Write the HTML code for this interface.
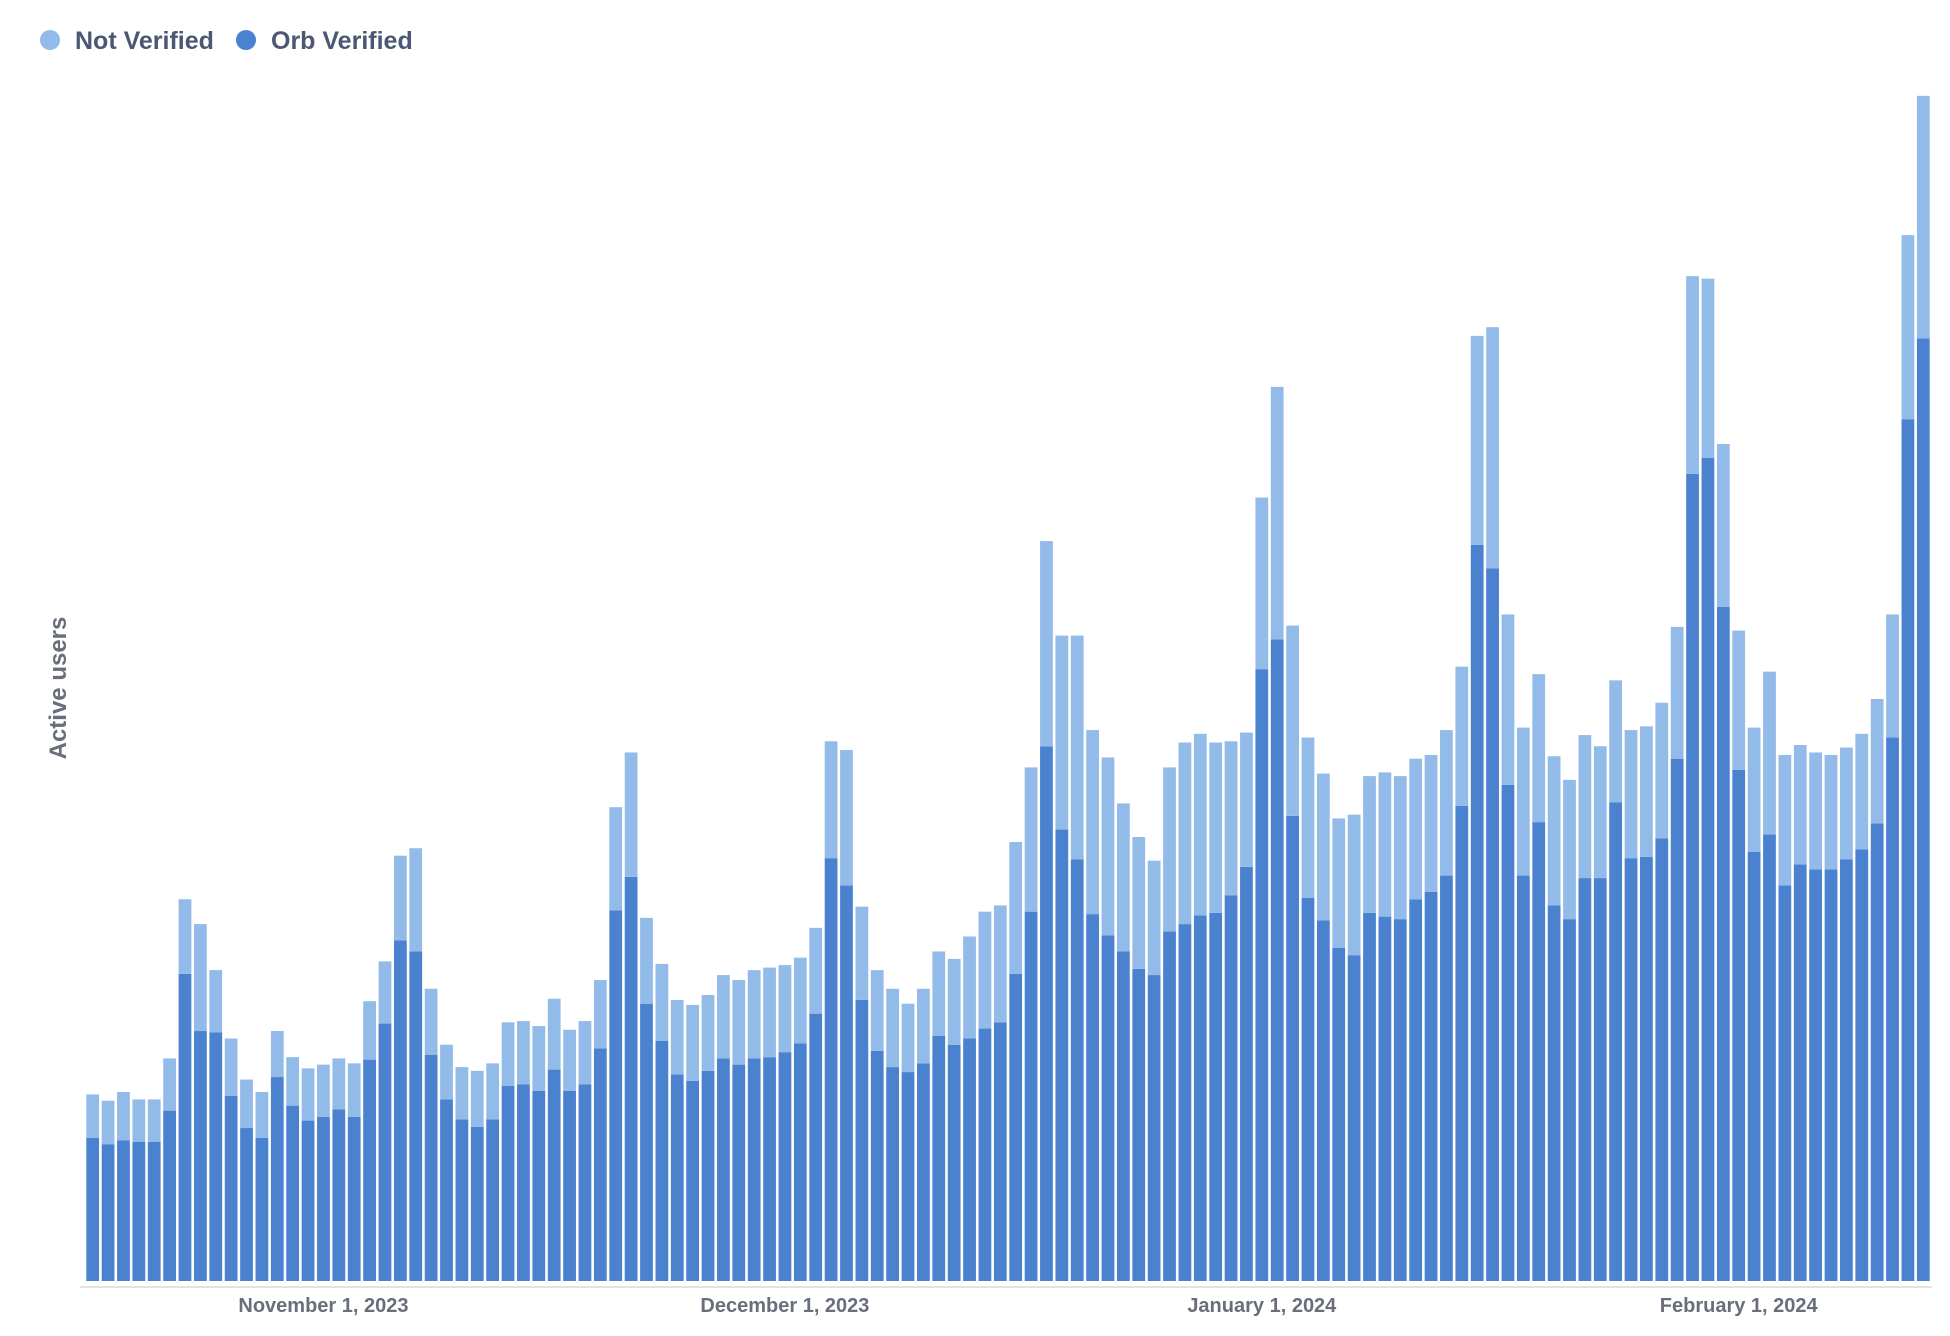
<!DOCTYPE html>
<html><head><meta charset="utf-8">
<style>
html,body{margin:0;padding:0;background:#fff;}
svg{display:block;font-family:"Liberation Sans",sans-serif;}
</style></head>
<body>
<svg id="chart" width="1950" height="1336" viewBox="0 0 1950 1336">
  <g>
    <g>
      <circle cx="50" cy="40" r="10" fill="#93bbe9"/>
      <text x="75" y="49" font-size="25" font-weight="bold" fill="#4c5773">Not Verified</text>
    </g>
    <g>
      <circle cx="246" cy="40" r="10" fill="#4a82d0"/>
      <text x="271" y="49" font-size="25" font-weight="bold" fill="#4c5773">Orb Verified</text>
    </g>
  </g>
  <text transform="translate(66,688) rotate(-90)" text-anchor="middle" font-size="24" font-weight="bold" fill="#696e7b">Active users</text>
  <g id="bars"></g>
  <line x1="80" y1="1287" x2="1932" y2="1287" stroke="#e0e2e6" stroke-width="2"/>
  <g id="xticks"></g>
</svg>
<script>
// Daily values, Oct 17 2023 .. Feb 13 2024 (arbitrary units)
const orbVerified = [115,110,113,112,112,137,247,201,200,149,123,115,164,141,129,132,138,132,178,207,274,265,182,146,130,124,130,157,158,153,170,153,158,187,298,325,223,193,166,161,169,179,174,179,180,184,191,215,340,318,226,185,172,168,175,197,190,195,203,208,247,297,430,363,339,295,278,265,251,246,281,287,294,296,310,333,492,516,374,308,290,268,262,296,293,291,307,313,326,382,592,573,399,326,369,302,291,324,324,385,340,341,356,420,649,662,542,411,345,359,318,335,331,331,339,347,368,437,693,758];
const notVerified = [35,35,39,34,34,42,60,86,50,46,39,37,37,39,42,42,41,43,47,50,68,83,53,44,42,45,45,51,51,52,57,49,51,55,83,100,69,62,60,61,61,67,68,71,72,70,69,69,94,109,75,65,63,55,60,68,69,82,94,94,106,116,165,156,180,148,143,119,106,92,132,146,146,137,124,108,138,203,153,129,118,104,113,110,116,115,113,110,117,112,168,194,137,119,119,120,112,115,106,98,103,105,109,106,159,144,131,112,100,131,105,96,94,92,90,93,100,99,148,195];
const tickIdx = [15, 45, 76, 107];
const tickLabels = ["November 1, 2023", "December 1, 2023", "January 1, 2024", "February 1, 2024"];

const NS = "http://www.w3.org/2000/svg";
const left = 85, right = 1931, base = 1281, yMax = 1000, plotTop = 37.4;
const n = orbVerified.length;
const step = (right - left) / n;
const xPos = i => left + step * i;
const yPos = v => base - (v / yMax) * (base - plotTop);
const bw = step * 0.83;
const barsG = document.getElementById('bars');
for (let i = 0; i < n; i++) {
  const x = xPos(i) + (step - bw) / 2;
  const o = orbVerified[i], nv = notVerified[i];
  const r1 = document.createElementNS(NS, 'rect');
  r1.setAttribute('x', x); r1.setAttribute('width', bw);
  r1.setAttribute('y', yPos(o)); r1.setAttribute('height', base - yPos(o));
  r1.setAttribute('fill', '#4a82d0');
  
  
  barsG.appendChild(r1);
  const r2 = document.createElementNS(NS, 'rect');
  r2.setAttribute('x', x); r2.setAttribute('width', bw);
  r2.setAttribute('y', yPos(o + nv)); r2.setAttribute('height', yPos(o) - yPos(o + nv));
  r2.setAttribute('fill', '#93bbe9');
  
  
  barsG.appendChild(r2);
}
const tg = document.getElementById('xticks');
tickIdx.forEach((ti, k) => {
  const cx = xPos(ti) + step / 2;
  const t = document.createElementNS(NS, 'text');
  t.setAttribute('x', cx); t.setAttribute('y', 1312);
  t.setAttribute('text-anchor', 'middle');
  t.setAttribute('font-size', '20'); t.setAttribute('font-weight', 'bold');
  t.setAttribute('fill', '#696e7b');
  t.textContent = tickLabels[k];
  
  
  tg.appendChild(t);
});
</script>
</body></html>
